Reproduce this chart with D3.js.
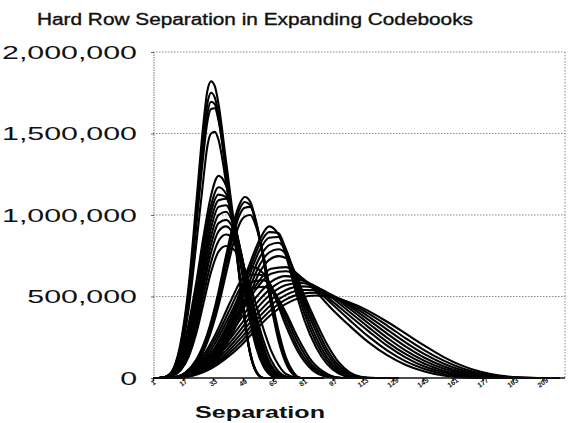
<!DOCTYPE html>
<html>
<head>
<meta charset="utf-8">
<script src="https://cdn.jsdelivr.net/npm/d3@7"></script>
<style>
  html, body { margin: 0; padding: 0; background: #fff; }
  svg { display: block; }
  text { font-family: "Liberation Sans", Arial, sans-serif; fill: #111; }
</style>
</head>
<body>
<svg id="chart" width="580" height="423"></svg>
<script>
// ---------- data (counts in thousands) ----------
const titleText = "Hard Row Separation in Expanding Codebooks";
const xTitle = "Separation";
const separationTicks = [1, 17, 33, 49, 65, 81, 97, 113, 129, 145, 161, 177, 193, 209];
const countTicks = [0, 500, 1000, 1500, 2000];

// tall narrow peaks
const sepA = [4, 8, 12, 16, 20, 24, 28, 30, 32, 34, 36, 40, 44, 48, 52, 56, 60];
const tallPeaks = [
  [0, 8, 60, 230, 560, 1060, 1570, 1760, 1820, 1790, 1680, 1330, 970, 560, 200, 40, 0],
  [0, 8, 55, 215, 530, 1000, 1490, 1680, 1750, 1720, 1620, 1290, 940, 550, 200, 40, 0],
  [0, 7, 50, 200, 500, 960, 1430, 1620, 1695, 1680, 1590, 1270, 930, 545, 200, 40, 0],
  [0, 7, 48, 190, 480, 920, 1380, 1570, 1650, 1655, 1580, 1270, 930, 545, 205, 42, 0],
  [0, 6, 40, 165, 420, 810, 1230, 1420, 1500, 1510, 1460, 1200, 900, 540, 210, 45, 0]
];

// medium peaks
const sepM = [4, 8, 12, 16, 20, 24, 28, 32, 36, 40, 44, 48, 52, 56, 60, 64, 68, 72, 80];
const mediumPeaks = [
  [0, 10, 50, 150, 330, 580, 870, 1120, 1240, 1180, 960, 680, 400, 190, 70, 15, 0, 0, 0],
  [0, 8, 45, 140, 310, 550, 830, 1060, 1170, 1130, 950, 700, 430, 210, 80, 20, 0, 0, 0],
  [0, 6, 35, 115, 270, 500, 780, 1020, 1125, 1110, 960, 720, 450, 230, 90, 25, 3, 0, 0],
  [0, 5, 30, 100, 240, 460, 730, 970, 1090, 1100, 980, 760, 490, 260, 110, 30, 5, 0, 0],
  [0, 5, 28, 95, 225, 430, 690, 920, 1050, 1060, 960, 770, 520, 290, 130, 40, 8, 1, 0],
  [0, 4, 25, 85, 205, 400, 650, 870, 1000, 1020, 940, 770, 540, 320, 150, 50, 12, 2, 0],
  [0, 4, 22, 75, 185, 365, 600, 820, 950, 970, 910, 760, 555, 345, 175, 65, 18, 3, 0],
  [0, 3, 20, 68, 170, 340, 560, 770, 900, 930, 880, 745, 560, 365, 195, 80, 25, 5, 0],
  [0, 3, 18, 60, 150, 305, 510, 710, 840, 880, 850, 740, 570, 390, 230, 110, 40, 10, 0],
  [0, 2, 15, 50, 130, 270, 460, 650, 775, 810, 790, 720, 600, 450, 300, 170, 80, 25, 0]
];

// second wave of peaks
const sepB = [12, 18, 24, 30, 36, 40, 44, 47, 50, 53, 56, 60, 64, 68, 72, 76, 80];
const secondPeaks = [
  [0, 30, 110, 270, 530, 750, 950, 1060, 1110, 1080, 960, 720, 450, 230, 90, 20, 0],
  [0, 28, 100, 255, 505, 715, 915, 1030, 1080, 1060, 950, 730, 470, 250, 100, 25, 0],
  [0, 25, 95, 240, 480, 685, 880, 995, 1045, 1050, 960, 750, 490, 270, 110, 30, 0],
  [0, 22, 85, 220, 445, 640, 830, 940, 990, 1000, 930, 750, 510, 290, 125, 35, 0]
];

// third wave
const sepC = [14, 22, 30, 38, 46, 52, 58, 63, 68, 72, 77, 82, 88, 94, 100, 106, 112, 120];
const thirdPeaks = [
  [0, 30, 110, 260, 480, 680, 850, 930, 880, 750, 540, 350, 190, 85, 28, 5, 0, 0],
  [0, 26, 98, 240, 455, 650, 820, 895, 890, 780, 580, 390, 220, 105, 38, 8, 0, 0],
  [0, 22, 88, 220, 425, 615, 785, 860, 865, 790, 610, 425, 250, 125, 48, 12, 0, 0],
  [0, 20, 80, 200, 395, 575, 740, 815, 830, 780, 630, 455, 285, 150, 62, 18, 2, 0],
  [0, 18, 72, 182, 365, 535, 695, 770, 790, 760, 640, 480, 315, 175, 78, 25, 4, 0],
  [0, 16, 64, 165, 335, 495, 650, 725, 748, 735, 640, 500, 345, 205, 98, 35, 8, 0]
];

// smaller intermediate peaks
const sepE = [10, 18, 26, 34, 42, 48, 54, 60, 66, 72, 78, 86, 94, 102];
const smallPeaks = [
  [0, 30, 110, 260, 460, 600, 680, 640, 500, 320, 170, 50, 8, 0],
  [0, 25, 95, 235, 420, 560, 635, 630, 520, 350, 195, 65, 12, 0],
  [0, 20, 82, 210, 385, 520, 590, 600, 525, 380, 225, 80, 18, 0],
  [0, 17, 70, 185, 350, 480, 545, 560, 515, 400, 255, 100, 25, 0]
];

// broad long-tailed curves
const sepD = [8, 16, 24, 32, 40, 48, 56, 64, 72, 80, 88, 96, 106, 116, 126, 136, 146, 156, 166, 176, 186, 196, 206];
const broadCurves = [
  [0, 15, 60, 150, 280, 430, 570, 670, 680, 620, 530, 430, 320, 220, 140, 80, 40, 15, 4, 0, 0, 0, 0],
  [0, 14, 55, 140, 265, 405, 545, 640, 655, 615, 545, 460, 355, 255, 170, 102, 55, 25, 8, 1, 0, 0, 0],
  [0, 12, 48, 122, 235, 365, 495, 590, 625, 605, 550, 478, 382, 288, 198, 125, 70, 35, 13, 3, 0, 0, 0],
  [0, 10, 42, 108, 210, 330, 455, 550, 598, 598, 560, 497, 405, 312, 222, 146, 87, 45, 19, 6, 1, 0, 0],
  [0, 9, 36, 95, 188, 300, 420, 515, 570, 583, 560, 508, 425, 336, 247, 168, 105, 58, 27, 10, 2, 0, 0],
  [0, 8, 31, 84, 168, 272, 385, 480, 540, 562, 553, 512, 440, 358, 272, 192, 124, 72, 36, 14, 4, 0, 0],
  [0, 7, 27, 75, 150, 246, 354, 448, 510, 540, 540, 510, 450, 378, 297, 217, 146, 89, 47, 21, 7, 1, 0],
  [0, 6, 24, 66, 134, 222, 325, 417, 482, 516, 524, 504, 460, 396, 322, 243, 170, 108, 60, 28, 10, 2, 0],
  [0, 5, 20, 58, 120, 200, 298, 388, 455, 494, 506, 496, 464, 412, 345, 272, 198, 130, 76, 38, 15, 4, 0]
];

// ---------- drawing ----------
const svg = d3.select("#chart");
const x = d3.scaleLinear().domain([1, 221]).range([153, 565]);
const y = d3.scaleLinear().domain([0, 2000]).range([378, 52]);

// gridlines / frame (dotted)
const grid = svg.append("g");
grid.selectAll("line.h").data(countTicks.filter(d => d > 0)).join("line")
  .attr("x1", x(1)).attr("x2", x(221))
  .attr("y1", d => y(d)).attr("y2", d => y(d))
  .attr("stroke", "#8a8a8a").attr("stroke-width", 1).attr("stroke-dasharray", "1.5,1.5");
grid.append("line")
  .attr("x1", x(221)).attr("x2", x(221)).attr("y1", y(2000)).attr("y2", y(0))
  .attr("stroke", "#8a8a8a").attr("stroke-dasharray", "1.5,1.5");
grid.append("line")
  .attr("x1", x(1) + 1).attr("x2", x(1) + 1).attr("y1", y(2000)).attr("y2", y(0))
  .attr("stroke", "#777").attr("stroke-dasharray", "1.5,1");

// y axis labels and ticks
const axisX = x(1) + 1;
const yAxis = svg.append("g")
  .attr("transform", `translate(${axisX},0)`)
  .call(d3.axisLeft(y).tickValues(countTicks).tickSize(3).tickFormat(d => d3.format(",")(d * 1000)));
yAxis.select(".domain").remove();
yAxis.selectAll(".tick line").attr("stroke", "#666");
yAxis.selectAll(".tick text").attr("font-size", 18).attr("fill", "#111")
  .attr("font-family", "'Liberation Sans', Arial, sans-serif");
const refW = (() => {
  const t = svg.append("text").attr("font-size", 18).text("2,000,000");
  const w = t.node().getComputedTextLength(); t.remove(); return w;
})();
const stretch = 135 / refW;
yAxis.selectAll(".tick text").each(function () {
  const w = this.getComputedTextLength() * stretch;
  d3.select(this).attr("text-anchor", "start").attr("x", 137 - axisX - w)
    .attr("textLength", w).attr("lengthAdjust", "spacingAndGlyphs").attr("dy", "0.36em");
});

// curves
const line = d3.line().curve(d3.curveMonotoneX).x(d => x(d[0])).y(d => y(d[1]));
const groups = [
  [sepD, broadCurves], [sepE, smallPeaks], [sepC, thirdPeaks],
  [sepB, secondPeaks], [sepM, mediumPeaks], [sepA, tallPeaks]
];
const curveG = svg.append("g");
groups.forEach(([sep, series]) => {
  series.forEach(vals => {
    const pts = [[1, 0]].concat(sep.map((s, i) => [s, vals[i]]));
    pts.push([sep[sep.length - 1] + 12, 0]);
    curveG.append("path").attr("d", line(pts))
      .attr("fill", "none").attr("stroke", "#000").attr("stroke-width", 2.1)
      .attr("stroke-linejoin", "round");
  });
});

// x axis
const xAxis = svg.append("g").attr("transform", `translate(0,${y(0)})`)
  .call(d3.axisBottom(x).tickValues(separationTicks).tickSize(3).tickFormat(d3.format("d")));
xAxis.select(".domain").attr("stroke", "#111").attr("stroke-width", 1.6)
  .attr("d", `M${x(1)},0H${x(221)}`);
xAxis.selectAll(".tick line").attr("stroke", "#111").attr("stroke-width", 1.5);
xAxis.selectAll(".tick text")
  .attr("font-size", 7).attr("font-weight", "bold").attr("fill", "#111")
  .attr("text-anchor", "middle").attr("y", 7).attr("dy", 0)
  .attr("transform", "rotate(-35 0 5)");

// title
svg.append("text").attr("x", 37).attr("y", 25).attr("font-size", 16)
  .attr("stroke", "#111").attr("stroke-width", 0.35)
  .attr("textLength", 436).attr("lengthAdjust", "spacingAndGlyphs").text(titleText);

// x title
svg.append("text").attr("x", 195).attr("y", 418).attr("font-size", 17).attr("font-weight", "bold")
  .attr("textLength", 130).attr("lengthAdjust", "spacingAndGlyphs").text(xTitle);
</script>
</body>
</html>
